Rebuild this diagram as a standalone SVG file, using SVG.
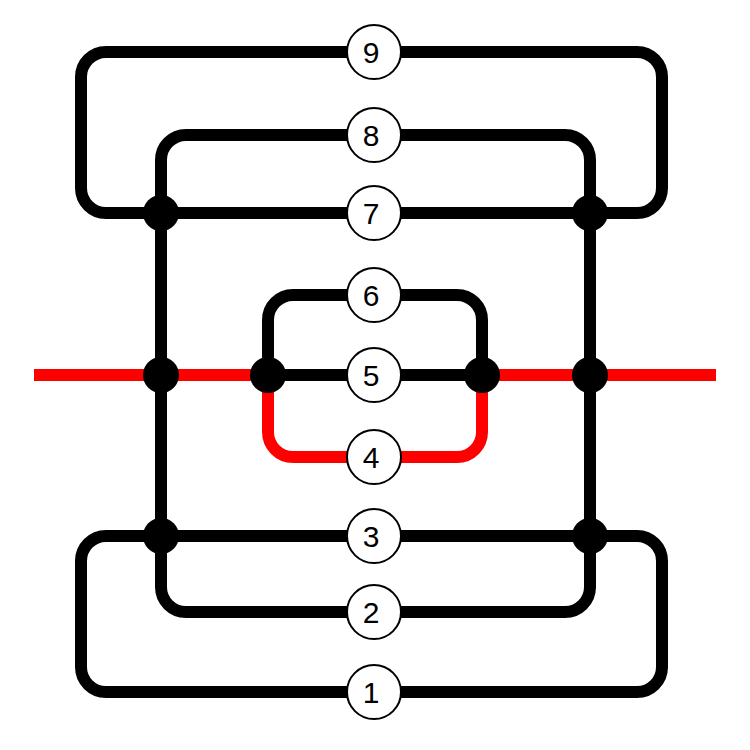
<svg xmlns="http://www.w3.org/2000/svg" width="750" height="750" viewBox="0 0 750 750">
<style>
.e{fill:none;stroke-width:12;stroke-linejoin:round}
.k{stroke:#000}
.r{stroke:#f00}
.j{fill:#000}
.lc{fill:#fff;stroke:#000;stroke-width:2}
.lt{font-family:"Liberation Sans",Arial,sans-serif;font-size:30px;text-anchor:middle;fill:#000}
</style>
<rect width="750" height="750" fill="#fff"/>
<g id="connectors">
<path class="e k" d="M160,213 H106 A25,25 0 0 1 81,188 V77 A25,25 0 0 1 106,52 H637 A25,25 0 0 1 662,77 V188 A25,25 0 0 1 637,213 H590"/>
<path class="e k" d="M161,213 V160 A25,25 0 0 1 186,135 H565 A25,25 0 0 1 590,160 V213"/>
<path class="e k" d="M160,213 H590"/>
<path class="e k" d="M161,213 V536 M590,213 V536"/>
<path class="e k" d="M268,375 V320 A25,25 0 0 1 293,295 H457 A25,25 0 0 1 482,320 V375"/>
<path class="e k" d="M268,375 H482"/>
<path class="e r" d="M34,375 H268 M482,375 H716"/>
<path class="e r" d="M268,383 V432 A25,25 0 0 0 293,457 H457 A25,25 0 0 0 482,432 V383"/>
<path class="e k" d="M590,536 H637 A25,25 0 0 1 662,561 V667 A25,25 0 0 1 637,692 H106 A25,25 0 0 1 81,667 V561 A25,25 0 0 1 106,536 H590"/>
<path class="e k" d="M161,536 V587 A25,25 0 0 0 186,612 H565 A25,25 0 0 0 590,587 V536"/>
</g>
<g id="junctions">
<circle id="j7l" class="j" cx="161" cy="213" r="18"/>
<circle id="j7r" class="j" cx="590" cy="213" r="18"/>
<circle id="j5a" class="j" cx="161" cy="375" r="18"/>
<circle id="j5b" class="j" cx="268" cy="375" r="18"/>
<circle id="j5c" class="j" cx="482" cy="375" r="18"/>
<circle id="j5d" class="j" cx="590" cy="375" r="18"/>
<circle id="j3l" class="j" cx="161" cy="536" r="18"/>
<circle id="j3r" class="j" cx="590" cy="536" r="18"/>
</g>
<g id="n9"><circle class="lc" cx="374" cy="52" r="27"/><text class="lt" x="371" y="63">9</text></g>
<g id="n8"><circle class="lc" cx="374" cy="135" r="27"/><text class="lt" x="371" y="146">8</text></g>
<g id="n7"><circle class="lc" cx="374" cy="213" r="27"/><text class="lt" x="371" y="224">7</text></g>
<g id="n6"><circle class="lc" cx="374" cy="295" r="27"/><text class="lt" x="371" y="306">6</text></g>
<g id="n5"><circle class="lc" cx="374" cy="375" r="27"/><text class="lt" x="371" y="386">5</text></g>
<g id="n4"><circle class="lc" cx="374" cy="457" r="27"/><text class="lt" x="371" y="468">4</text></g>
<g id="n3"><circle class="lc" cx="374" cy="536" r="27"/><text class="lt" x="371" y="547">3</text></g>
<g id="n2"><circle class="lc" cx="374" cy="612" r="27"/><text class="lt" x="371" y="623">2</text></g>
<g id="n1"><circle class="lc" cx="374" cy="692" r="27"/><text class="lt" x="371" y="703">1</text></g>
</svg>
